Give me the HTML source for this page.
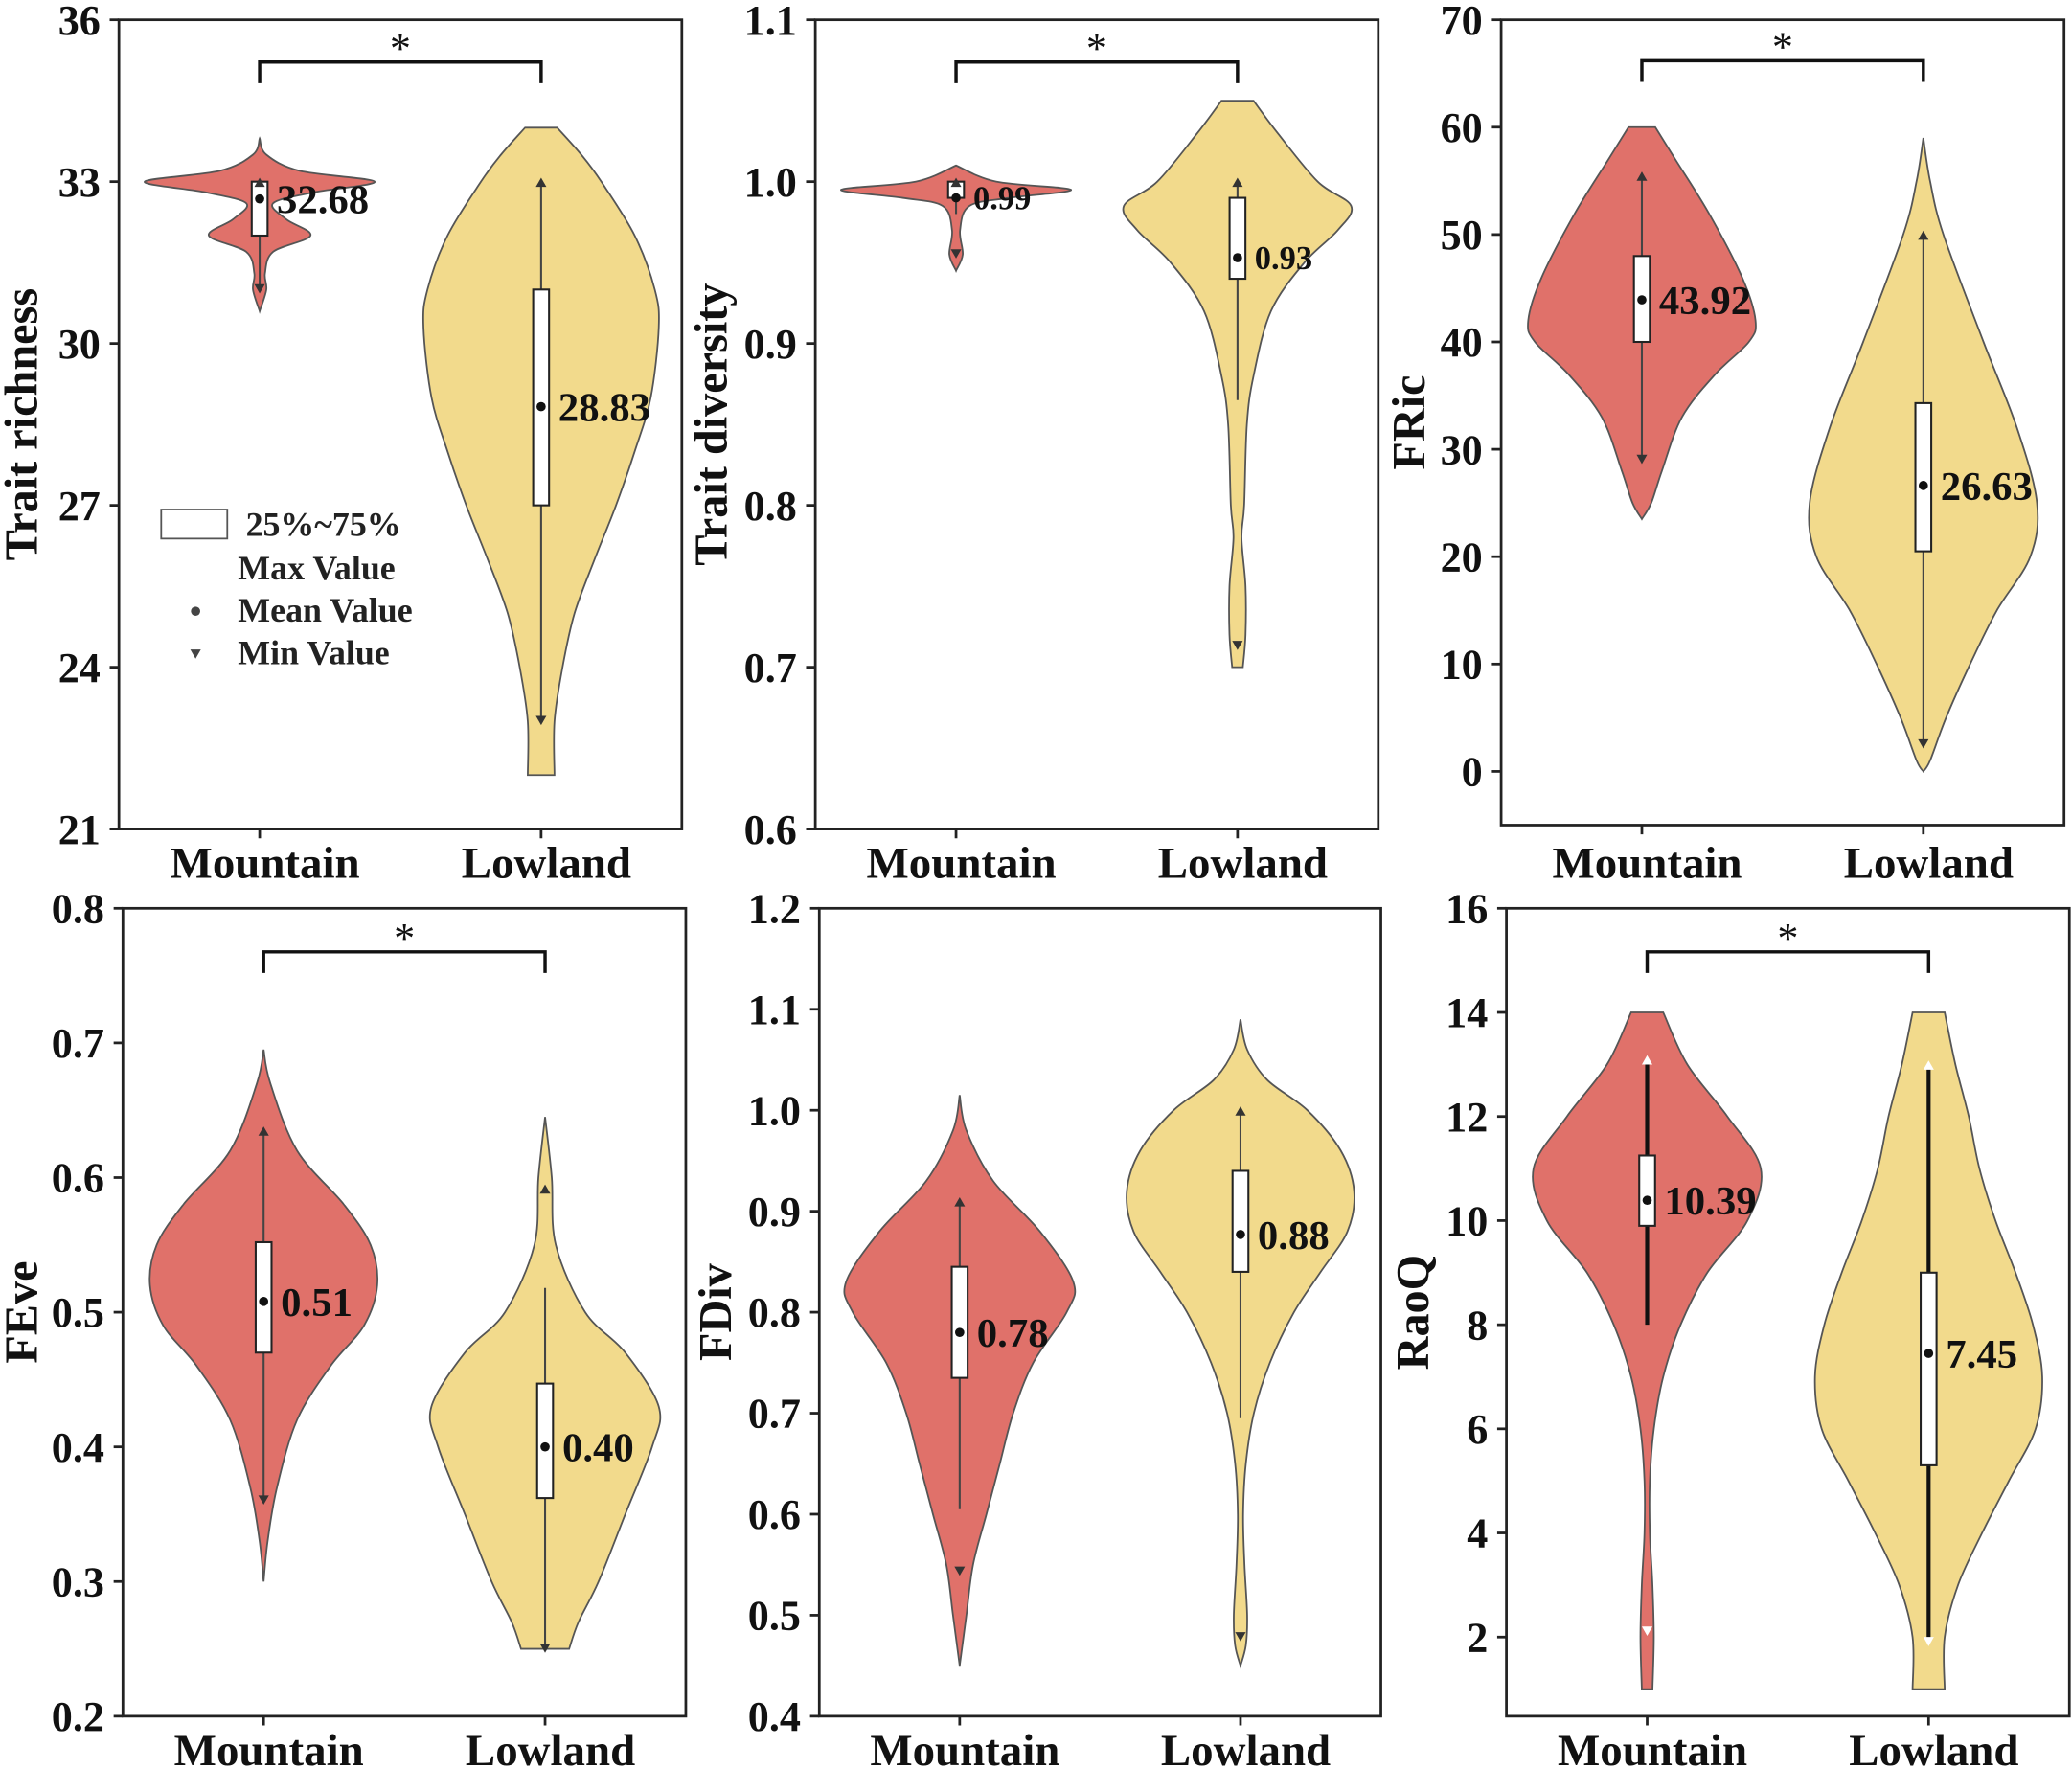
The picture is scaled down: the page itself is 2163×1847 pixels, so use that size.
<!DOCTYPE html>
<html><head><meta charset="utf-8"><style>
html,body{margin:0;padding:0;background:#fff;}
svg{display:block;font-family:"Liberation Serif","Times New Roman",serif;}
</style></head><body>
<svg id="chart" width="2163" height="1847" viewBox="0 0 1568 1340" preserveAspectRatio="none" xmlns="http://www.w3.org/2000/svg"></svg>
<script>
// ---- data ----
const categories = ["Mountain", "Lowland"];
const panelTitles = ["Trait richness", "Trait diversity", "FRic", "FEve", "FDiv", "RaoQ"];
const yTicks1 = [21, 24, 27, 30, 33, 36];
const yTicks2 = [0.6, 0.7, 0.8, 0.9, 1.0, 1.1];
const yTicks3 = [0, 10, 20, 30, 40, 50, 60, 70];
const yTicks4 = [0.2, 0.3, 0.4, 0.5, 0.6, 0.7, 0.8];
const yTicks5 = [0.4, 0.5, 0.6, 0.7, 0.8, 0.9, 1.0, 1.1, 1.2];
const yTicks6 = [2, 4, 6, 8, 10, 12, 14, 16];
const tickLabels2 = ["0.6","0.7","0.8","0.9","1.0","1.1"];
const tickLabels4 = ["0.2","0.3","0.4","0.5","0.6","0.7","0.8"];
const tickLabels5 = ["0.4","0.5","0.6","0.7","0.8","0.9","1.0","1.1","1.2"];

// violin density profiles: value levels and relative density (0-85)
const p1MountY = [33.8,33.5,33.2,33.0,32.8,32.6,32.3,32.0,31.7,31.3,31.0,30.6];
const p1MountD = [0,5,30,86,40,10,20,38,10,4,5,0];
const p1LowY = [34,33.5,33,32,31,30.3,29,28,27,26,25,24,23,22];
const p1LowD = [12,30,45,70,85,88,82,70,56,40,25,16,10,10];
const p2MountY = [1.01,1.0,0.995,0.99,0.985,0.97,0.955,0.945];
const p2MountD = [0,30,86,40,10,3,5,0];
const p2LowY = [1.05,1.03,1.0,0.985,0.97,0.95,0.92,0.88,0.85,0.8,0.78,0.75,0.72,0.70];
const p2LowD = [12,30,60,85,75,50,25,12,7,5,3,6,6,4];
const p3MountY = [60,57,52,46,42,40,37,33,28,25,23.5];
const p3MountD = [10,25,50,75,85,80,55,30,15,7,0];
const p3LowY = [59,55,50,40,32,25,20,15,10,5,1,0];
const p3LowD = [0,5,15,45,70,85,80,55,35,17,5,0];
const p4MountY = [0.695,0.67,0.62,0.58,0.55,0.52,0.49,0.46,0.42,0.37,0.33,0.30];
const p4MountD = [0,5,25,60,80,85,75,50,25,10,3,0];
const p4LowY = [0.645,0.6,0.55,0.5,0.47,0.43,0.4,0.35,0.3,0.27,0.25];
const p4LowD = [0,5,8,30,60,85,80,60,40,25,18];
const p5MountY = [1.015,0.98,0.93,0.88,0.83,0.8,0.75,0.7,0.65,0.6,0.55,0.5,0.45];
const p5MountD = [0,5,25,60,85,80,55,40,30,20,10,5,0];
const p5LowY = [1.09,1.06,1.03,1.0,0.96,0.92,0.88,0.84,0.8,0.75,0.7,0.65,0.6,0.55,0.5,0.47,0.45];
const p5LowD = [0,5,20,50,75,85,80,60,40,22,10,4,2,3,5,4,0];
const p6MountY = [14,13,12,11,10,9,8,7,6,5,4,3,2,1];
const p6MountD = [12,30,60,85,75,45,25,12,5,2,2,4,5,4];
const p6LowY = [14,13,12,11,10,9,8,7,6,5,4,3,2,1];
const p6LowD = [12,20,30,38,50,65,78,85,80,60,40,22,12,12];

// box stats: [q1, q3, mean, max, min, whiskerLow, whiskerHigh]
const p1Mount = [32, 33, 32.68, 33, 31, 31, 33];
const p1Low = [27, 31, 28.83, 33, 23, 23, 33];
const p2Mount = [0.99, 1.0, 0.99, 1.0, 0.955, 0.98, 1.0];
const p2Low = [0.94, 0.99, 0.953, 1.0, 0.713, 0.865, 1.0];
const p3Mount = [40, 48, 43.92, 55.5, 29, 29, 55.5];
const p3Low = [20.5, 34.3, 26.63, 50, 2.5, 2.5, 50];
const p4Mount = [0.47, 0.552, 0.508, 0.635, 0.36, 0.36, 0.635];
const p4Low = [0.362, 0.447, 0.40, 0.592, 0.25, 0.25, 0.518];
const p5Mount = [0.735, 0.845, 0.78, 0.91, 0.543, 0.605, 0.91];
const p5Low = [0.84, 0.94, 0.877, 1.0, 0.478, 0.695, 1.0];
const p6Mount = [9.9, 11.25, 10.39, 13.1, 2.1, 8, 13.1];
const p6Low = [5.3, 9, 7.45, 13, 1.9, 1.9, 13];
const meanLabels = [["32.68","28.83"],["0.99","0.93"],["43.92","26.63"],["0.51","0.40"],["0.78","0.88"],["10.39","7.45"]];

// ---- layout ----
const svg = document.getElementById('chart');
const NS = "http://www.w3.org/2000/svg";
function mk(tag, attrs, parent){const e=document.createElementNS(NS,tag);for(const k in attrs)e.setAttribute(k,attrs[k]);(parent||svg).appendChild(e);return e;}

const panels = [
 {x0:90,x1:516,y0:15,y1:628,min:21,max:36,ticks:yTicks1,tl:null,v:[[p1MountY,p1MountD,p1Mount],[p1LowY,p1LowD,p1Low]],sig:47,tx:15,lf:31,whiteTri:false,xly:665},
 {x0:617,x1:1043,y0:15,y1:628,min:0.6,max:1.1,ticks:yTicks2,tl:tickLabels2,v:[[p2MountY,p2MountD,p2Mount],[p2LowY,p2LowD,p2Low]],sig:47,tx:537,lf:25,whiteTri:false,xly:665},
 {x0:1136,x1:1562,y0:15,y1:625,min:-5,max:70,ticks:yTicks3,tl:null,v:[[p3MountY,p3MountD,p3Mount],[p3LowY,p3LowD,p3Low]],sig:46,tx:1065,lf:31,whiteTri:false,xly:665},
 {x0:93,x1:519,y0:688,y1:1300,min:0.2,max:0.8,ticks:yTicks4,tl:tickLabels4,v:[[p4MountY,p4MountD,p4Mount],[p4LowY,p4LowD,p4Low]],sig:721,tx:15,lf:31,whiteTri:false,xly:1337},
 {x0:620,x1:1045,y0:688,y1:1300,min:0.4,max:1.2,ticks:yTicks5,tl:tickLabels5,v:[[p5MountY,p5MountD,p5Mount],[p5LowY,p5LowD,p5Low]],sig:null,tx:540,lf:31,whiteTri:false,xly:1337},
 {x0:1140,x1:1566,y0:688,y1:1300,min:0.48,max:16,ticks:yTicks6,tl:null,v:[[p6MountY,p6MountD,p6Mount],[p6LowY,p6LowD,p6Low]],sig:721,tx:1068,lf:31,whiteTri:true,xly:1337}
];
const fills = ["#E0716A","#F2DA8C"];

function smoothPath(pts){
  let d="M"+pts[0][0]+","+pts[0][1];
  for(let i=0;i<pts.length-1;i++){
    const p0=pts[Math.max(0,i-1)],p1=pts[i],p2=pts[i+1],p3=pts[Math.min(pts.length-1,i+2)];
    const c1=[p1[0]+(p2[0]-p0[0])/6,p1[1]+(p2[1]-p0[1])/6];
    const c2=[p2[0]-(p3[0]-p1[0])/6,p2[1]-(p3[1]-p1[1])/6];
    d+=" C"+c1[0]+","+c1[1]+" "+c2[0]+","+c2[1]+" "+p2[0]+","+p2[1];
  }
  return d;
}

panels.forEach((P,pi)=>{
  const g=mk('g',{});
  
  
  const w=P.x1-P.x0;
  const catX=i=>P.x0+w*(i===0?0.25:0.75);
  const yS=v=>P.y1-(v-P.min)/(P.max-P.min)*(P.y1-P.y0);
  const half=86/85;
  P.v.forEach((vd,ci)=>{
    const [ys,ds,st]=vd; const cx=catX(ci);
    const right=ys.map((y,i)=>[cx+ds[i]*half,yS(y)]);
    const left=ys.map((y,i)=>[cx-ds[i]*half,yS(y)]).reverse();
    let d=smoothPath(right)+" L"+left[0][0]+","+left[0][1]+smoothPath(left).replace(/^M[^C]*/,"")+" Z";
    const vp=mk('path',{d:d,fill:fills[ci],stroke:"#555",'stroke-width':1.3},g);
    
    
    const lc=P.whiteTri?"#111":"#444", lw=P.whiteTri?3:1.5;
    const wl=mk('line',{x1:cx,x2:cx,y1:yS(st[6]),y2:yS(st[5]),stroke:lc,'stroke-width':lw},g);
    
    
    const bx=mk('rect',{x:cx-6,y:yS(st[1]),width:12,height:yS(st[0])-yS(st[1]),fill:"#fff",stroke:"#222",'stroke-width':1.5},g);
    
    
    const triC=P.whiteTri?"#fff":"#333";
    const ymx=yS(st[3]), ymn=yS(st[4]);
    const t1=mk('path',{d:`M${cx-4},${ymx+4} L${cx+4},${ymx+4} L${cx},${ymx-3} Z`,fill:triC},g);
    
    
    const t2=mk('path',{d:`M${cx-4},${ymn-4} L${cx+4},${ymn-4} L${cx},${ymn+3} Z`,fill:triC},g);
    
    
    const md=mk('circle',{cx:cx,cy:yS(st[2]),r:3.5,fill:"#111"},g);
    
    
    const lt=mk('text',{x:cx+13,y:yS(st[2])+P.lf*0.35,'font-size':P.lf,'font-weight':'bold',fill:"#111"},g);
    lt.textContent=meanLabels[pi][ci];
    
    
    mk('line',{x1:cx,x2:cx,y1:P.y1,y2:P.y1+7,stroke:"#222",'stroke-width':2},g);
    const xl=mk('text',{x:cx+4,y:P.xly,'font-size':34,'font-weight':'bold','text-anchor':'middle',fill:"#111"},g);
    xl.textContent=categories[ci];
    
    
  });
  const fr=mk('rect',{x:P.x0,y:P.y0,width:w,height:P.y1-P.y0,fill:"none",stroke:"#222",'stroke-width':2},g);
  
  
  P.ticks.forEach((t,i)=>{
    const y=yS(t);
    mk('line',{x1:P.x0-7,x2:P.x0,y1:y,y2:y,stroke:"#222",'stroke-width':2},g);
    const tl=mk('text',{x:P.x0-14,y:y+11,'font-size':32,'font-weight':'bold','text-anchor':'end',fill:"#111"},g);
    tl.textContent=P.tl?P.tl[i]:String(t);
    
    
  });
  const cy=(P.y0+P.y1)/2;
  const yt=mk('text',{x:P.tx+13,y:cy,'font-size':35,'font-weight':'bold','text-anchor':'middle',transform:`rotate(-90 ${P.tx+13} ${cy})`,fill:"#111"},g);
  yt.textContent=panelTitles[pi];
  
  
  if(P.sig!==null){
    const a=catX(0),b=catX(1);
    const br=mk('path',{d:`M${a},${P.sig+16} L${a},${P.sig} L${b},${P.sig} L${b},${P.sig+16}`,fill:"none",stroke:"#111",'stroke-width':2.5},g);
    
    
    const st=mk('text',{x:(a+b)/2,y:P.sig,'font-size':32,'text-anchor':'middle',fill:"#111"},g);
    st.textContent="*";
    
    
  }
});

const lg=mk('g',{'font-size':26,'font-weight':'bold',fill:'#222'});


mk('rect',{x:122,y:386,width:50,height:22,fill:'#fff',stroke:'#555','stroke-width':1.3},lg);
const legItems=[["25%~75%",186,406],["Max Value",180,439],["Mean Value",180,471],["Min Value",180,503]];
legItems.forEach(it=>{const t=mk('text',{x:it[1],y:it[2]},lg);t.textContent=it[0];
  
  });
mk('circle',{cx:148,cy:463,r:3.5,fill:'#444'},lg);
mk('path',{d:'M144,492 L152,492 L148,499 Z',fill:'#444'},lg);
</script>
</body></html>
